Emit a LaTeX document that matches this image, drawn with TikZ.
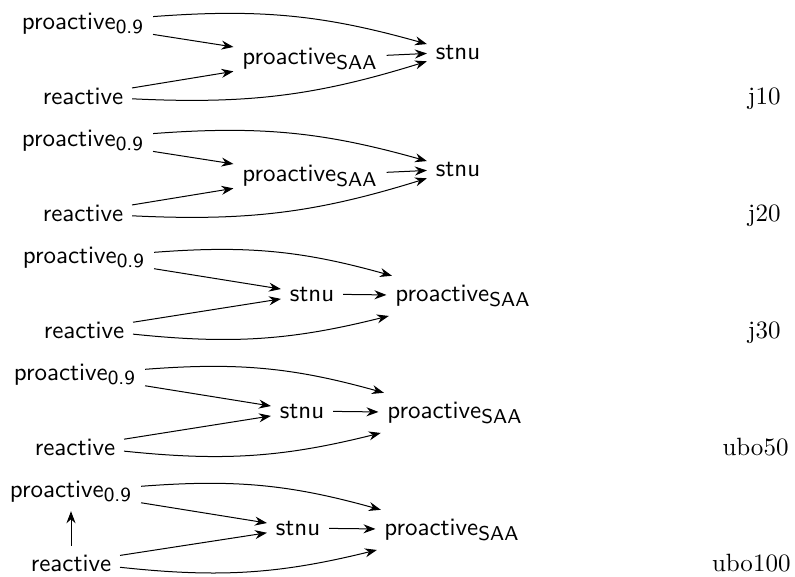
\documentclass[tikz,border=0pt]{standalone}
\usetikzlibrary{arrows.meta}
\newcommand{\lowidx}[1]{$_{\mbox{\fontsize{8}{9}\selectfont #1}}$}

\begin{document}
\begin{tikzpicture}[
  x=0.4pt, y=-0.4pt,
  state/.style={font=\sffamily, anchor=base},
  tag/.style={anchor=base east, inner sep=0pt},
  arrow/.style={-Stealth}
]
\useasboundingbox (0,0) rectangle (795,576);

% j10
\node[state] (p1) at (83,29) {proactive\lowidx{0.9}};
\node[state] (r1) at (83,104) {reactive};
\node[state] (q1) at (310,64) {proactive\lowidx{SAA}};
\node[state] (s1) at (458,59) {stnu};
\node[tag] (l1) at (781,104) {j10};

% j20
\node[state] (p2) at (83,146) {proactive\lowidx{0.9}};
\node[state] (r2) at (83,221) {reactive};
\node[state] (q2) at (310,181) {proactive\lowidx{SAA}};
\node[state] (s2) at (458,176) {stnu};
\node[tag] (l2) at (781,221) {j20};

% j30
\node[state] (p3) at (84,263) {proactive\lowidx{0.9}};
\node[state] (r3) at (84,338) {reactive};
\node[state] (s3) at (312,301) {stnu};
\node[state] (q3) at (463,301) {proactive\lowidx{SAA}};
\node[tag] (l3) at (781,338) {j30};

% ubo50
\node[state] (p4) at (75,380) {proactive\lowidx{0.9}};
\node[state] (r4) at (75,455) {reactive};
\node[state] (s4) at (302,418) {stnu};
\node[state] (q4) at (455,418) {proactive\lowidx{SAA}};
\node[tag] (l4) at (789,455) {ubo50};

% ubo100
\node[state] (p5) at (71,497) {proactive\lowidx{0.9}};
\node[state] (r5) at (71,571) {reactive};
\node[state] (s5) at (298,535) {stnu};
\node[state] (q5) at (452,535) {proactive\lowidx{SAA}};
\node[tag] (l5) at (791,571) {ubo100};

\draw[arrow] (p1) -- (q1);
\draw[arrow] (r1) -- (q1);
\draw[arrow] (q1) -- (s1);
\draw[arrow] (p1) to[bend left=10] (s1);
\draw[arrow] (r1) to[bend right=10] (s1);

\draw[arrow] (p2) -- (q2);
\draw[arrow] (r2) -- (q2);
\draw[arrow] (q2) -- (s2);
\draw[arrow] (p2) to[bend left=10] (s2);
\draw[arrow] (r2) to[bend right=10] (s2);

\draw[arrow] (p3) -- (s3);
\draw[arrow] (r3) -- (s3);
\draw[arrow] (s3) -- (q3);
\draw[arrow] (p3) to[bend left=10] (q3);
\draw[arrow] (r3) to[bend right=10] (q3);

\draw[arrow] (p4) -- (s4);
\draw[arrow] (r4) -- (s4);
\draw[arrow] (s4) -- (q4);
\draw[arrow] (p4) to[bend left=10] (q4);
\draw[arrow] (r4) to[bend right=10] (q4);

\draw[arrow] (p5) -- (s5);
\draw[arrow] (r5) -- (s5);
\draw[arrow] (s5) -- (q5);
\draw[arrow] (p5) to[bend left=10] (q5);
\draw[arrow] (r5) to[bend right=10] (q5);
\draw[arrow] (r5) -- (r5 |- p5.south);
\end{tikzpicture}
\end{document}
